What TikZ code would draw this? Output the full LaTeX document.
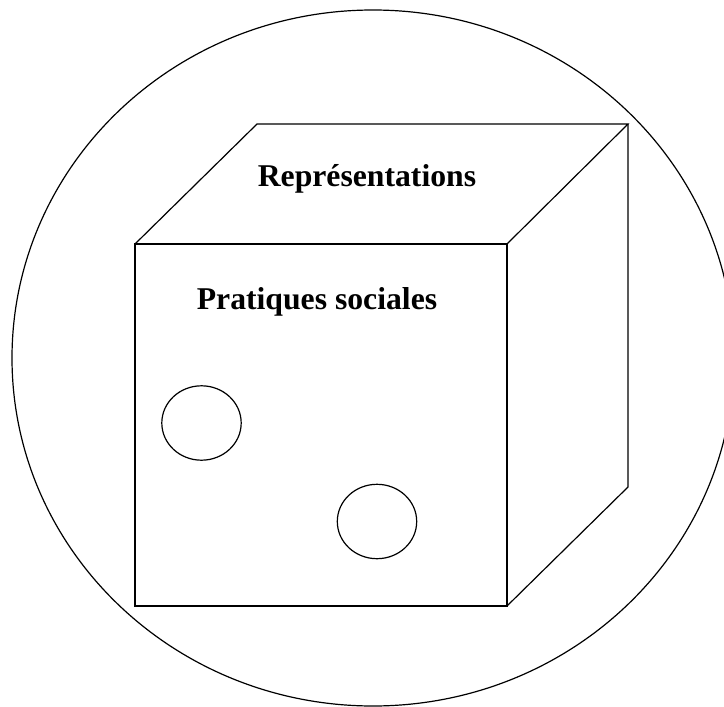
\documentclass[tikz,border=0pt]{standalone}
\usepackage{fontspec}
\setmainfont{Liberation Serif}
\begin{document}
\begin{tikzpicture}[x=1pt,y=-1pt,line width=1.2pt,
  lbl/.style={font=\fontsize{31.7}{38}\selectfont\bfseries,anchor=base,inner sep=0pt}]
\useasboundingbox (0,0) rectangle (724,707);
\clip (0,0) rectangle (724,707);
% outer circle
\draw (373,358) ellipse [x radius=361, y radius=348];
% cube
\coordinate (A) at (135,244);
\coordinate (B) at (507,244);
\coordinate (C) at (507,606);
\coordinate (D) at (135,606);
\coordinate (E) at (257,124);
\coordinate (F) at (628,124);
\coordinate (G) at (628,487);
\draw (A) -- (B) -- (C) -- (D) -- cycle;
\draw (A) -- (E) -- (F) -- (B);
\draw (F) -- (G) -- (C);
% labels
\node[lbl] (rep) at (367,186) {Représentations};
\node[lbl] (prat) at (317,309) {Pratiques sociales};
% small circles
\draw (201.5,423) ellipse [x radius=39.7, y radius=37.2];
\draw (377,521.5) ellipse [x radius=39.7, y radius=37.2];
\end{tikzpicture}
\end{document}
